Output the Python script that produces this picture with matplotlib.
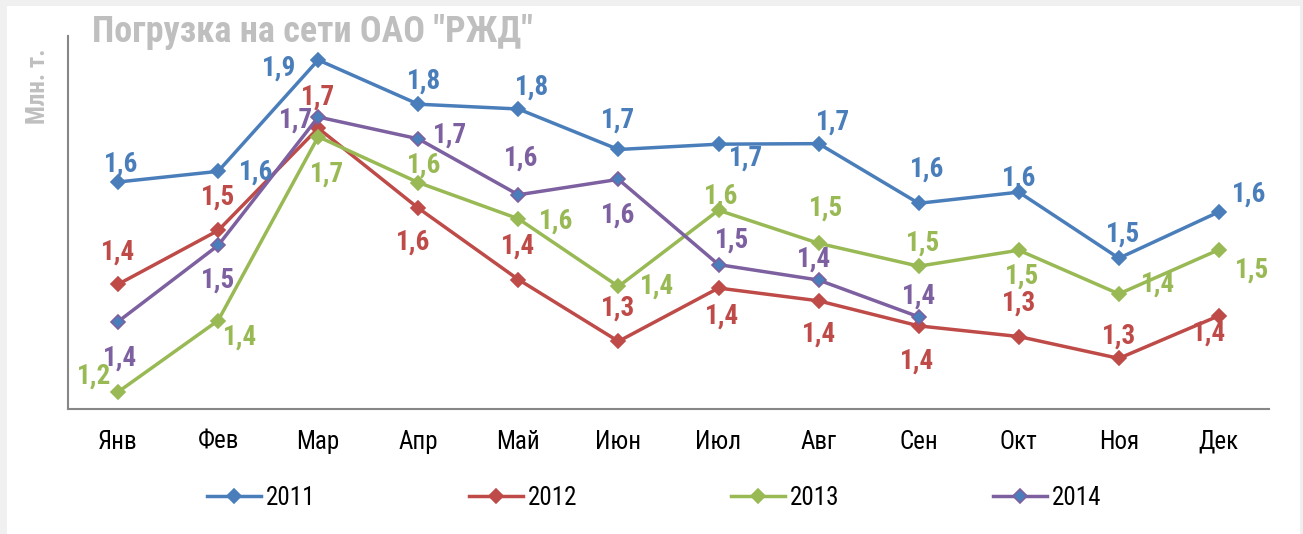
import matplotlib
matplotlib.use("Agg")
import matplotlib.pyplot as plt
from matplotlib import font_manager
from matplotlib.patches import Rectangle

# ---------------- data ----------------
months = ["Янв", "Фев", "Мар", "Апр", "Май", "Июн", "Июл", "Авг", "Сен", "Окт", "Ноя", "Дек"]
years = ["2011", "2012", "2013", "2014"]
v2011 = [1.626, 1.646, 1.855, 1.772, 1.763, 1.687, 1.697, 1.698, 1.586, 1.607, 1.483, 1.570]
v2012 = [1.434, 1.535, 1.727, 1.577, 1.443, 1.327, 1.427, 1.403, 1.356, 1.336, 1.295, 1.375]
v2013 = [1.232, 1.366, 1.711, 1.625, 1.557, 1.430, 1.573, 1.511, 1.468, 1.498, 1.416, 1.499]
v2014 = [1.364, 1.507, 1.748, 1.707, 1.602, 1.631, 1.471, 1.442, 1.373]
title = 'Погрузка на сети ОАО "РЖД"'
ylabel = "Млн. т."

# ---------------- style ----------------
available = {f.name for f in font_manager.fontManager.ttflist}
narrow = [n for n in ["Liberation Sans Narrow", "Arial Narrow", "Roboto Condensed",
                      "Open Sans Condensed", "DejaVu Sans Condensed"] if n in available]
if narrow:
    FONT = narrow[0]
    k = 1.0
else:
    FONT = "Liberation Sans"
    k = 0.86
plt.rcParams["font.family"] = [FONT, "DejaVu Sans"]

colors = ["#4A7EBB", "#BE4B48", "#98B954", "#7D60A0"]
face = ["#4A7EBB", "#BE4B48", "#98B954", "#4A7EBB"]
# label offsets (pixels, x right / y up) per point
offs = [
    [(3, 18), (38, -1), (-39, -8), (6, 23), (14, 22), (0, 29), (27, -14), (14, 22), (8, 34), (0, 14), (4, 24), (30, 18)],
    [(0, 32), (0, 33), (0, 31), (-5, -34), (0, 33), (0, 33), (4, -28), (0, -33), (-2, -35), (0, 33), (0, 22), (-10, -17)],
    [(-24, 16), (22, -17), (9, -37), (6, 17), (38, -2), (39, 0), (3, 14), (7, 35), (4, 23), (3, -26), (39, 10), (33, -20)],
    [(2, -37), (0, -35), (-22, -3), (32, 4), (3, 37), (0, -36), (14, 24), (-5, 21), (0, 21)],
]

W, H = 1303, 534
fig = plt.figure(figsize=(W / 100, H / 100), dpi=100, facecolor="#F0F0F0")
fig.patches.append(Rectangle((7 / W, 0), 1293 / W, (H - 6) / H, transform=fig.transFigure,
                             facecolor="white", edgecolor="none", zorder=-5))

ax = fig.add_axes([68 / W, (H - 409) / H, (1269 - 68) / W, (409 - 36) / H])
ax.set_facecolor("none")
ax.set_zorder(1)

series = [v2011, v2012, v2013, v2014]
x_all = list(range(len(months)))
for i, (name, vals) in enumerate(zip(years, series)):
    xs = x_all[:len(vals)]
    ax.plot(xs, vals, color=colors[i], lw=2.5, marker="D", ms=6.8,
            markerfacecolor=face[i], markeredgecolor=colors[i], mew=1.2,
            label=name, zorder=2 + i, clip_on=False)

for i, vals in enumerate(series):
    for j, v in enumerate(vals):
        txt = f"{v:.1f}".replace(".", ",")
        ax.annotate(txt, (j, v), xytext=offs[i][j], textcoords="offset pixels",
                    ha="center", va="center", fontsize=19.5 * k, fontweight="bold",
                    color=colors[i], zorder=10)

ax.set_xlim(-0.5, 11.5)
ax.set_ylim(1.2, 1.9)
ax.set_xticks(x_all)
ax.set_xticklabels(months, fontsize=18 * k)
ax.tick_params(axis="x", length=0, pad=15)
ax.set_yticks([])
for s in ["top", "right"]:
    ax.spines[s].set_visible(False)
for s in ["left", "bottom"]:
    ax.spines[s].set_color("#878787")
    ax.spines[s].set_linewidth(1.5)

fig.text(92 / W, 1 - 32 / H, title, ha="left", va="center", fontsize=26 * k,
         fontweight="bold", color="#BFBFBF")
fig.text(38 / W, 1 - 86 / H, ylabel, ha="center", va="center", rotation=90,
         fontsize=18 * k, fontweight="bold", color="#BFBFBF")

fig.legend(loc="center", bbox_to_anchor=(654 / W, 1 - 498 / H), ncol=4, frameon=False,
           fontsize=18 * k, handlelength=2.15, handletextpad=0.2, columnspacing=6.15,
           borderpad=0, borderaxespad=0)

fig.savefig("out.png", dpi=100, facecolor=fig.get_facecolor())
